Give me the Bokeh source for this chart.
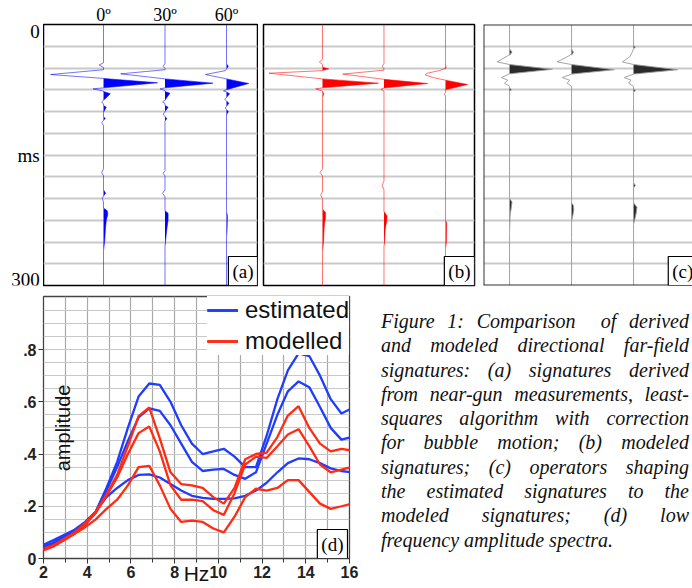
from bokeh.plotting import figure
from bokeh.layouts import row, column
from bokeh.models import Range1d, FixedTicker, Label, Span, Legend, LegendItem, Div
from bokeh.embed import file_html
from bokeh.resources import INLINE

# ---------------- trace panels (a), (b), (c) ----------------
TRACE_POS = [1, 2, 3]
ANGLE_LABELS = ["0º", "30º", "60º"]
TIME_LABELS = ["0", "ms", "300"]
TIME_LABEL_MS = [0, 150, 300]
TIME_LABEL_BASE = ["top", "middle", "bottom"]
GRID_MS = [25, 50, 75, 100, 125, 150, 175, 200, 225, 250, 275]

# (a) estimated signatures: time (ms) and amplitude (in trace spacings)
A0_T = [0, 44, 46.5, 49.5, 52, 57.5, 62, 67, 72.8, 74, 76.5, 77, 79.5, 84, 87, 89, 91.5, 93, 95, 101,
        104, 106, 108, 110, 113, 116, 166, 170, 174, 190, 194, 197, 200, 204, 211, 214, 218, 225, 236, 248,
        260, 300]
A0_A = [0, 0, -0.07, 0, 0, -0.86, 0, 0.88, 0, -0.17, 0, 0, 0.11, 0.05, 0, -0.03, 0, 0, 0.045, 0,
        0, 0, 0.03, 0, -0.03, 0, 0, -0.03, 0, 0, 0.035, 0, -0.02, 0, 0, 0.06, 0.07, 0.045, 0.03, 0.02,
        0, 0]
A1_T = [0, 45, 48, 50.5, 52, 56.7, 62.5, 67.4, 72.8, 74, 76, 77, 79, 84, 87, 89, 91, 93, 95, 100,
        103, 106, 108, 111, 168, 171, 174, 190, 194, 198, 214, 217, 225, 235, 248, 255, 300]
A1_A = [0, 0, -0.03, 0, 0, -0.72, 0, 0.78, 0, -0.08, 0, 0, 0.08, 0.03, 0, -0.04, 0, 0, 0.05, 0,
        -0.03, 0, 0.03, 0, 0, -0.03, 0, 0, -0.04, 0, 0, 0.05, 0.05, 0.03, 0.01, 0, 0]
A2_T = [0, 45, 48, 51, 53, 57.5, 62.5, 67.8, 75, 76.2, 77.5, 79.5, 84, 86, 88, 90.5, 94, 96, 98, 100,
        104, 215, 220, 235, 245, 300]
A2_A = [0, 0, 0.03, 0, -0.02, -0.34, 0, 0.36, 0, -0.05, 0, 0.05, 0, -0.03, 0, 0.04, 0, -0.02, 0, 0.03,
        0, 0, 0.015, 0.01, 0, 0]

# (b) modeled signatures
B0_T = [0, 40, 43, 46, 49, 51, 53, 56, 62.5, 67.4, 72.8, 74, 76.5, 80, 84, 166, 170, 174, 192, 196,
        200, 212, 216, 222, 228, 236, 248, 262, 300]
B0_A = [0, 0, -0.05, 0, 0, 0.1, 0, -0.87, 0, 0.91, 0, -0.11, 0, 0.02, 0, 0, -0.04, 0, 0, -0.03,
        0, 0, 0.05, 0.05, 0.035, 0.025, 0.02, 0, 0]
B1_T = [0, 45, 48, 51, 52.5, 57, 63, 67.8, 73, 74.5, 76.5, 180, 185, 190, 215, 220, 226, 235, 250, 255, 300]
B1_A = [0, 0, -0.03, 0, 0, -0.67, 0, 0.71, 0, -0.05, 0, 0, -0.03, 0, 0, 0.05, 0.045, 0.02, 0.01, 0, 0]
B2_T = [0, 45, 50, 53, 56, 58, 61, 64, 69, 75, 78, 80, 82, 225, 228, 250, 258, 300]
B2_A = [0, 0, 0.01, -0.1, -0.3, -0.33, -0.2, 0, 0.36, 0, 0, -0.02, 0, 0, 0.02, 0.015, 0, 0]

# (c) shaping operators
C0_T = [0, 28, 32, 36, 43, 46, 51.5, 56.7, 61, 64, 67.5, 71, 73, 75, 77, 198, 200, 204, 212, 218, 240, 300]
C0_A = [0, 0, 0.04, -0.03, -0.2, 0, 0.69, 0, -0.13, -0.03, -0.08, 0, 0, 0.03, 0, 0, 0, 0.04, 0.025, 0.01, 0, 0]
C1_T = [0, 28, 32, 36, 43, 46, 52, 57, 61, 64, 67.5, 71, 205, 208, 213, 220, 226, 245, 300]
C1_A = [0, 0, 0.03, -0.04, -0.23, 0, 0.69, 0, -0.15, -0.03, -0.07, 0, 0, 0.03, 0.035, 0.02, 0, 0, 0]
C2_T = [0, 24, 26, 28, 33, 37, 43, 46, 52, 57, 61, 64, 67.5, 71, 74, 76, 78, 182, 185, 188,
        205, 210, 216, 224, 230, 300]
C2_A = [0, 0, 0.03, 0, -0.03, -0.06, -0.18, 0, 0.71, 0, -0.15, -0.04, -0.08, 0, 0, 0.03, 0, 0, 0.03, 0,
        0, 0.055, 0.045, 0.02, 0, 0]

# ---------------- spectra (d) ----------------
FREQ = [1.95, 2.44, 2.93, 3.42, 3.91, 4.39, 4.88, 5.37, 5.86, 6.35, 6.84, 7.32, 7.81, 8.30, 8.79,
        9.28, 9.77, 10.25, 10.74, 11.23, 11.72, 12.21, 12.70, 13.18, 13.67, 14.16, 14.65, 15.14, 15.63, 16.11]
EST_0 = [0.045, 0.06, 0.085, 0.105, 0.13, 0.18, 0.27, 0.37, 0.50, 0.62, 0.67, 0.665, 0.60, 0.51, 0.44,
         0.40, 0.41, 0.42, 0.39, 0.35, 0.35, 0.47, 0.61, 0.72, 0.785, 0.775, 0.70, 0.61, 0.555, 0.575]
EST_30 = [0.04, 0.055, 0.08, 0.10, 0.13, 0.175, 0.26, 0.35, 0.45, 0.54, 0.575, 0.565, 0.51, 0.44, 0.37,
          0.335, 0.34, 0.343, 0.32, 0.305, 0.33, 0.44, 0.55, 0.64, 0.678, 0.656, 0.58, 0.50, 0.455, 0.465]
EST_60 = [0.05, 0.07, 0.09, 0.11, 0.14, 0.18, 0.235, 0.27, 0.30, 0.32, 0.322, 0.31, 0.285, 0.26, 0.24,
          0.232, 0.228, 0.228, 0.23, 0.24, 0.26, 0.29, 0.33, 0.365, 0.383, 0.38, 0.365, 0.345, 0.335, 0.33]
MOD_0 = [0.035, 0.05, 0.075, 0.10, 0.135, 0.18, 0.245, 0.32, 0.43, 0.545, 0.578, 0.46, 0.33, 0.285, 0.28,
         0.27, 0.235, 0.21, 0.27, 0.38, 0.40, 0.405, 0.465, 0.547, 0.583, 0.50, 0.44, 0.41, 0.42, 0.413]
MOD_30 = [0.03, 0.045, 0.07, 0.095, 0.13, 0.175, 0.24, 0.31, 0.40, 0.48, 0.505, 0.41, 0.28, 0.225, 0.225,
          0.22, 0.185, 0.167, 0.25, 0.36, 0.39, 0.385, 0.43, 0.475, 0.495, 0.43, 0.36, 0.33, 0.34, 0.35]
MOD_60 = [0.035, 0.05, 0.07, 0.095, 0.12, 0.15, 0.19, 0.225, 0.28, 0.35, 0.355, 0.28, 0.19, 0.14, 0.145,
          0.14, 0.115, 0.10, 0.16, 0.235, 0.267, 0.26, 0.27, 0.30, 0.30, 0.255, 0.21, 0.19, 0.20, 0.21]
HZ_TICKS = [2, 4, 6, 8, 10, 12, 14, 16]
HZ_MINOR = [3, 5, 7, 9, 11, 13, 15]
HZ_GRID = [3, 4, 5, 6, 7, 8, 9, 10, 11, 12, 13, 14, 15]
AMP_TICKS = [0, 0.2, 0.4, 0.6, 0.8]
AMP_LABELS = ["0", ".2", ".4", ".6", ".8"]
AMP_GRID = [0.05, 0.1, 0.15, 0.2, 0.25, 0.3, 0.35, 0.4, 0.45, 0.5, 0.55, 0.6, 0.65, 0.7, 0.75, 0.8,
            0.85, 0.9, 0.95]

CAPTION_LINES = [
    "Figure 1: Comparison&nbsp; of derived",
    "and modeled directional far-field",
    "signatures: (a) signatures derived",
    "from near-gun measurements, least-",
    "squares algorithm with correction",
    "for bubble motion; (b) modeled",
    "signatures; (c) operators shaping",
    "the estimated signatures to the",
    "modeled signatures; (d) low",
    "frequency amplitude spectra.",
]

SERIF = "Liberation Serif"
SANS = "Liberation Sans"
BLUE = "#1f3cff"
RED = "#ff2b12"


def trace_panel(traces, x_start, x_end, width, left, right, line_color, line_alpha, fill_color):
    p = figure(width=width, height=290, x_range=Range1d(x_start, x_end), y_range=Range1d(300, 0),
               x_axis_location="above", y_axis_location=None, title_location=None,
               min_border_left=left, min_border_right=right, min_border_top=24, min_border_bottom=5,
               output_backend="svg", toolbar_location=None)
    p.xgrid.visible = False
    p.ygrid.ticker = FixedTicker(ticks=GRID_MS)
    p.ygrid.grid_line_color = "#c9c9c9"
    p.ygrid.grid_line_width = 2
    p.outline_line_color = "black"
    p.outline_line_width = 1.5
    p.xaxis.ticker = FixedTicker(ticks=TRACE_POS)
    p.xaxis.major_label_overrides = dict(zip(TRACE_POS, ANGLE_LABELS))
    p.xaxis.axis_line_color = None
    p.xaxis.major_tick_line_color = None
    p.xaxis.minor_tick_line_color = None
    p.xaxis.major_tick_out = 0
    p.xaxis.major_tick_in = 0
    p.xaxis.minor_tick_out = 0
    p.xaxis.minor_tick_in = 0
    p.xaxis.major_label_standoff = 0
    p.xaxis.major_label_text_font = SERIF
    p.xaxis.major_label_text_font_size = "18px"
    p.xaxis.major_label_text_color = "black"
    for pos, (t, a) in zip(TRACE_POS, traces):
        p.harea(x1=[pos] * len(t), x2=[pos + max(v, 0.0) for v in a], y=t, fill_color=fill_color)
        p.line(x=[pos + v for v in a], y=t, line_color=line_color, line_alpha=line_alpha, line_width=1)
    return p


def tag(p, text, x, align):
    p.add_layout(Label(x=x, y=300, text=text, text_align=align, text_baseline="bottom",
                       text_font=SERIF, text_font_size="19px", text_color="black",
                       border_line_color="black", border_line_width=1.2,
                       background_fill_color="white", background_fill_alpha=1, padding=4))


# time labels column (left of panel a), same ms scale and frame as the panels
pt = figure(width=43, height=290, x_range=Range1d(0, 1), y_range=Range1d(300, 0),
            x_axis_location=None, y_axis_location=None, title_location=None,
            min_border_left=0, min_border_right=0, min_border_top=24, min_border_bottom=5,
            output_backend="svg", toolbar_location=None)
pt.xgrid.visible = False
pt.ygrid.visible = False
pt.outline_line_color = None
for ms, txt, base in zip(TIME_LABEL_MS, TIME_LABELS, TIME_LABEL_BASE):
    pt.text(x=[0.91], y=[ms], text=[txt], text_baseline=base, text_align="right",
            text_font={"value": SERIF}, text_font_size="19px", text_color="black")

pa = trace_panel([(A0_T, A0_A), (A1_T, A1_A), (A2_T, A2_A)], 0.024, 3.504, 215, 0, 1,
                 "#0000ff", 0.55, "#0000ff")
tag(pa, "(a)", 3.504, "right")

pb = trace_panel([(B0_T, B0_A), (B1_T, B1_A), (B2_T, B2_A)], 0.041, 3.472, 220, 5, 4,
                 "#ff0000", 0.55, "#ff0000")
pb.xaxis.visible = False
tag(pb, "(b)", 3.472, "right")

pc = trace_panel([(C0_T, C0_A), (C1_T, C1_A), (C2_T, C2_A)], 0.58, 3.951, 214, 5, 0,
                 "#9a9a9a", 0.9, "#2b2b2b")
pc.xaxis.visible = False
pc.outline_line_color = None
for loc, dim in [(0, "width"), (300, "width"), (0.58, "height")]:
    pc.add_layout(Span(location=loc, dimension=dim, line_color="#333333", line_width=2))
tag(pc, "(c)", 3.56, "left")

# ---------------- spectrum panel ----------------
pd_ = figure(width=360, height=298, x_range=Range1d(2, 16), y_range=Range1d(0, 1.003),
             title_location=None,
             min_border_left=43, min_border_right=11, min_border_top=6, min_border_bottom=30,
             output_backend="svg", toolbar_location=None)
pd_.outline_line_color = "#444444"
pd_.outline_line_width = 1.3
pd_.xgrid.ticker = FixedTicker(ticks=HZ_GRID)
pd_.xgrid.grid_line_color = "#a9a9a9"
pd_.xgrid.grid_line_width = 1.2
pd_.ygrid.ticker = FixedTicker(ticks=AMP_GRID)
pd_.ygrid.grid_line_color = "#c8c8c8"
pd_.ygrid.grid_line_width = 1.2
pd_.xaxis.ticker = FixedTicker(ticks=HZ_TICKS, minor_ticks=HZ_MINOR)
pd_.yaxis.ticker = FixedTicker(ticks=AMP_TICKS)
pd_.yaxis.major_label_overrides = dict(zip(AMP_TICKS, AMP_LABELS))
for ax in (pd_.xaxis[0], pd_.yaxis[0]):
    ax.axis_line_color = None
    ax.major_tick_in = 0
    ax.major_tick_out = 5
    ax.minor_tick_in = 0
    ax.minor_tick_out = 4
    ax.major_tick_line_color = "#333333"
    ax.minor_tick_line_color = "#333333"
    ax.major_label_text_font = SANS
    ax.major_label_text_font_style = "bold"
    ax.major_label_text_font_size = "16px"
    ax.major_label_text_color = "#222222"
    ax.major_label_standoff = 2
pd_.yaxis.minor_tick_line_color = None
pd_.xaxis.axis_label = "Hz"
pd_.xaxis.axis_label_text_font = SANS
pd_.xaxis.axis_label_text_font_style = "normal"
pd_.xaxis.axis_label_text_font_size = "21px"
pd_.xaxis.axis_label_text_color = "#111111"
pd_.xaxis.axis_label_standoff = -19

est = [pd_.line(FREQ, s, line_color=BLUE, line_width=2.3) for s in (EST_0, EST_30, EST_60)]
mod = [pd_.line(FREQ, s, line_color=RED, line_width=2.3) for s in (MOD_0, MOD_30, MOD_60)]
legend = Legend(items=[LegendItem(label="estimated", renderers=est),
                       LegendItem(label="modelled", renderers=mod)],
                location="top_right", margin=0, padding=7, spacing=3,
                glyph_width=31, glyph_height=22, label_height=22, label_standoff=7,
                label_text_font=SANS, label_text_font_size="24px", label_text_color="#111111",
                border_line_color=None, background_fill_color="white", background_fill_alpha=1)
pd_.add_layout(legend)
pd_.add_layout(Label(x=2.9, y=0.5, text="amplitude", angle=90, angle_units="deg",
                     text_align="center", text_baseline="middle",
                     text_font=SANS, text_font_size="20px", text_color="#111111"))
pd_.add_layout(Label(x=16, y=0, x_offset=-2, text="(d)", text_align="right", text_baseline="bottom",
                     text_font=SERIF, text_font_size="19px", text_color="black",
                     border_line_color="black", border_line_width=1.2,
                     background_fill_color="white", background_fill_alpha=1, padding=4))

lines_html = "".join(
    '<div style="white-space:nowrap;text-align:justify;text-align-last:%s;">%s</div>'
    % ("justify" if i < len(CAPTION_LINES) - 1 else "left", l)
    for i, l in enumerate(CAPTION_LINES))
caption = Div(text='<div style="margin-left:16px;padding-top:14px;width:308px;font-family:\'Liberation Serif\';'
                   'font-style:italic;font-size:20px;line-height:24.3px;color:#111;">' + lines_html + '</div>',
              width=332, height=298, styles={"overflow": "hidden"})

p = column(row(pt, pa, pb, pc, spacing=0), row(pd_, caption, spacing=0), spacing=0)
open("out.html", "w").write(file_html(p, INLINE))
